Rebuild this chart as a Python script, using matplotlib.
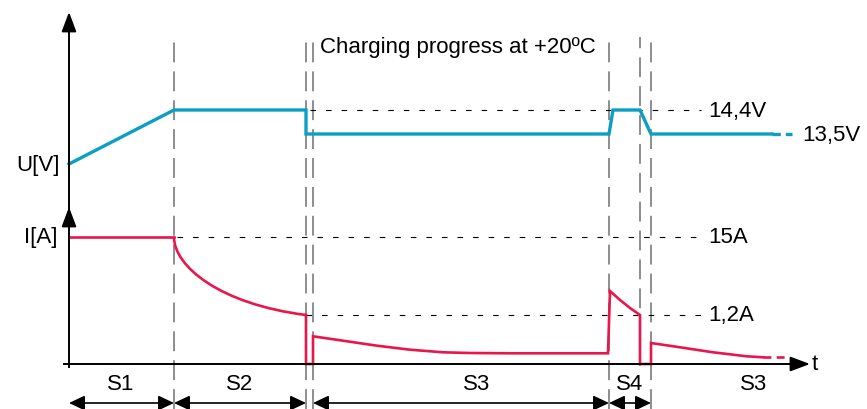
import matplotlib.pyplot as plt
from matplotlib.path import Path
from matplotlib.patches import PathPatch

plt.rcParams['font.family'] = ['Liberation Sans', 'DejaVu Sans']

# phase boundaries on the time axis (diagram units)
t_end = 741
phase_lines = [105, 237, 244, 540, 571, 582]
phase_line_bottom = [-45, -45, -45, -45, -2, -45]
phase_names = ['S1', 'S2', 'S3', 'S4', 'S3']
phase_label_t = [52, 171, 408, 561, 685]
phase_arrows = [(0, 105), (105, 237), (244, 540), (540, 582)]

# voltage curve (levels above baseline)
u_t = [0, 105, 237, 237, 540, 544, 571, 582, 703]
u_level = [200, 254, 254, 230, 230, 254, 254, 230, 230]
u_tail_t = [703, 723]
u_tail_level = [230, 230]

# current curve: S1 constant, S2 decay (bezier control points), rest
i_s1_t = [0, 105]
i_s1_level = [127, 127]
i_s2_ctrl_t = [105, 105, 150, 237]
i_s2_ctrl_level = [127, 98, 60, 49]
i_t = [237, 237, 244, 244, 274, 308, 341, 374, 401, 441, 539,
       541, 551, 561, 571, 571, 582, 582, 611, 644, 677.7, 694]
i_level = [49, 0, 0, 27.7, 23.3, 18.3, 14.3, 11.7, 11, 10.7, 10.7,
           73, 64, 56, 49, 0, 0, 21, 16.7, 11.7, 7.7, 6.7]
i_tail_t = [694, 718]
i_tail_level = [6.7, 6.7]

# reference levels
ref_levels = [254, 127, 49]
ref_start = [241, 108, 237]
ref_end = 632
ref_labels = ['14,4V', '15A', '1,2A']
u_float_level = 230
u_float_label = '13,5V'

teal = '#0a9fc3'
red = '#e8164b'
grey = '#858585'

fig = plt.figure(figsize=(8.67, 4.1), dpi=100)
ax = fig.add_axes([0, 0, 1, 1])
ax.set_xlim(-69, 798)
ax.set_ylim(-45, 365)
ax.axis('off')

# vertical phase lines
for t, yb in zip(phase_lines, phase_line_bottom):
    ax.plot([t, t], [yb, 327], color=grey, lw=1.3,
            linestyle=(0, (11, 5)), zorder=1)

# reference dotted lines + labels
for lvl, x0, lab in zip(ref_levels, ref_start, ref_labels):
    ax.plot([x0, ref_end], [lvl, lvl], color='black', lw=0.8,
            linestyle=(0, (5, 9)), zorder=1)
    ax.text(ref_end + 7, lvl, lab, fontsize=16, va='center', ha='left')
ax.text(733, u_float_level, u_float_label, fontsize=16, va='center', ha='left')

# curves
ax.plot(u_t, u_level, color=teal, lw=2.4, zorder=3, solid_joinstyle='miter')
ax.plot(u_tail_t, u_tail_level, color=teal, lw=2.4, linestyle=(0, (2.5, 1.5)), zorder=3)

ax.plot(i_s1_t, i_s1_level, color=red, lw=1.9, zorder=3)
s2_path = Path(list(zip(i_s2_ctrl_t, i_s2_ctrl_level)),
               [Path.MOVETO, Path.CURVE4, Path.CURVE4, Path.CURVE4])
ax.add_patch(PathPatch(s2_path, fill=False, edgecolor=red, lw=1.9, zorder=3))
ax.plot(i_t, i_level, color=red, lw=1.9, zorder=3, solid_joinstyle='miter')
ax.plot(i_tail_t, i_tail_level, color=red, lw=1.9, linestyle=(0, (3, 2)), zorder=3)

# axes with arrows
ax.plot([0, 0], [-3, 340], color='black', lw=1.4, zorder=4)
ax.plot([-5, 730], [0, 0], color='black', lw=1.4, zorder=4)
head = dict(arrowstyle='-|>,head_length=1.2,head_width=0.45', color='black',
            lw=1.4, mutation_scale=10, shrinkA=0, shrinkB=0)
ax.annotate('', xy=(0, 352), xytext=(0, 330), arrowprops=head, zorder=5)
ax.annotate('', xy=(0, 157), xytext=(0, 135), arrowprops=head, zorder=5)
ax.annotate('', xy=(t_end, 0), xytext=(715, 0), arrowprops=head, zorder=5)

ax.text(-9, 199, 'U[V]', fontsize=16, ha='right', va='center')
ax.text(-12, 127, 'I[A]', fontsize=16, ha='right', va='center')
ax.text(t_end + 2, 0, 't', fontsize=16, ha='left', va='center')
ax.text(251, 318, 'Charging progress at +20\u00baC', fontsize=16,
        ha='left', va='center')

# phase arrows at the bottom
dbl = dict(arrowstyle='<|-|>,head_length=0.95,head_width=0.45', color='black',
           lw=1.2, mutation_scale=10, shrinkA=0, shrinkB=0)
for a, b in phase_arrows:
    ax.annotate('', xy=(b, -39), xytext=(a, -39), arrowprops=dbl)
for t, name in zip(phase_label_t, phase_names):
    ax.text(t, -20, name, fontsize=16, ha='center', va='center')

fig.savefig('out.png', dpi=100)
